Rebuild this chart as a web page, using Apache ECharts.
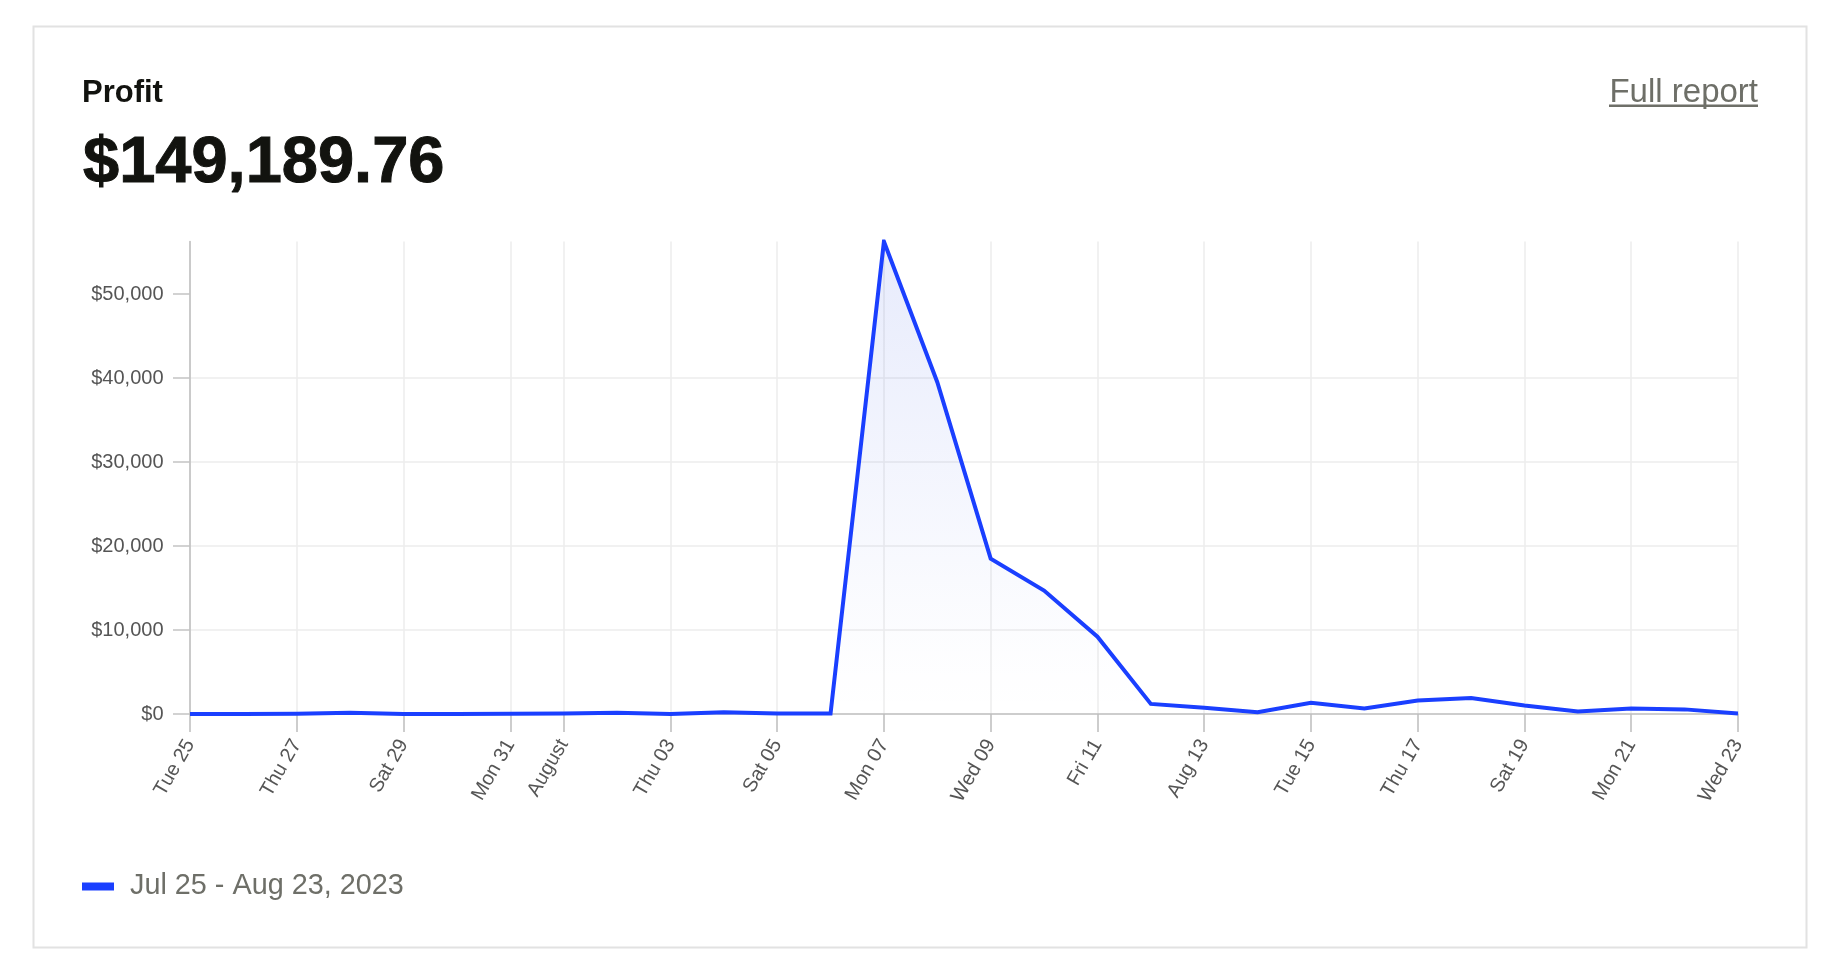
<!DOCTYPE html>
<html><head><meta charset="utf-8">
<style>html,body{margin:0;padding:0;background:#fff}#c{width:1838px;height:968px}</style>
<script src="https://cdn.jsdelivr.net/npm/echarts@6/dist/echarts.min.js"></script>
</head><body><div id="c"></div>
<script>
const dayLabels = ["Tue 25","","Thu 27","","Sat 29","","Mon 31","August","","Thu 03","","Sat 05","","Mon 07","","Wed 09","","Fri 11","","Aug 13","","Tue 15","","Thu 17","","Sat 19","","Mon 21","","Wed 23"];
const profit = [0,0,30,150,0,0,30,60,150,0,200,60,70,56250,39500,18500,14700,9200,1200,750,200,1350,650,1600,1900,1000,300,650,550,50];
const yTicks = [0,10000,20000,30000,40000,50000];
const yMax = 56250;
const seriesName = "Jul 25 - Aug 23, 2023";
const titleText = "Profit";
const totalText = "$149,189.76";
const linkText = "Full report";

const FONT = '"Liberation Sans", Arial, sans-serif';
const shown = (i) => dayLabels[i] !== "";
const chart = echarts.init(document.getElementById('c'));
chart.setOption({
  animation:false,
  backgroundColor:'#fff',
  textStyle:{fontFamily:FONT},
  grid:{left:190,right:100,top:241.5,bottom:254,containLabel:false},
  title:[
    {text:titleText,left:82,top:78,padding:0,textStyle:{fontFamily:FONT,fontSize:31,fontWeight:'bold',color:'#12130f'}},
    {text:totalText,left:83,top:132,padding:0,textStyle:{fontFamily:FONT,fontSize:65,fontWeight:'bold',color:'#12130f',textBorderColor:'#12130f',textBorderWidth:1}}
  ],
  graphic:[
    {type:'rect',silent:true,z:-10,shape:{x:33.5,y:26.5,width:1773,height:921},style:{fill:'#fff',stroke:'#e2e2e2',lineWidth:2}},
    {type:'text',silent:true,style:{text:linkText,x:1758,y:76.5,align:'right',verticalAlign:'top',font:'33px "Liberation Sans"',fill:'#6e6f68'}},
    {type:'rect',silent:true,shape:{x:1609,y:104.5,width:149,height:2.5},style:{fill:'#6e6f68'}}
  ],
  legend:{
    left:82,top:872,padding:0,icon:'rect',itemWidth:32,itemHeight:8,
    selectedMode:false,
    data:[{name:seriesName,icon:'rect',itemStyle:{color:'#1a3fff'}}],
    textStyle:{fontFamily:FONT,fontSize:28.8,color:'#6e6f68',padding:[0,0,0,11]}
  },
  xAxis:{
    type:'category',boundaryGap:false,data:dayLabels.map((d,i)=>i),
    axisLine:{lineStyle:{color:'#bdbdbd',width:1.5}},
    axisTick:{show:true,length:18,interval:(i)=>shown(i),lineStyle:{color:'#bdbdbd',width:1.5}},
    splitLine:{show:true,interval:(i)=>shown(i),lineStyle:{color:'#ececec',width:1.5}},
    axisLabel:{rotate:60,margin:27,fontSize:20,color:'#555',fontFamily:FONT,hideOverlap:false,
      interval:(i)=>shown(i),formatter:(v,i)=>dayLabels[i]}
  },
  yAxis:{
    type:'value',min:0,max:yMax,interval:10000,
    axisLine:{show:true,lineStyle:{color:'#bdbdbd',width:1.5}},
    axisTick:{show:true,length:17,customValues:yTicks,lineStyle:{color:'#c4c4c4',width:1.5}},
    splitLine:{show:true,showMaxLine:false,showMinLine:false,lineStyle:{color:'#ececec',width:1.5}},
    axisLabel:{margin:26.5,fontSize:20,color:'#555',fontFamily:FONT,customValues:yTicks,verticalAlign:'middle',
      formatter:(v)=>'$'+Number(v).toLocaleString('en-US')}
  },
  series:[{
    name:seriesName,type:'line',data:profit,showSymbol:false,smooth:false,z:5,
    lineStyle:{color:'#1a3fff',width:4,join:'miter'},itemStyle:{color:'#1a3fff'},
    areaStyle:{color:new echarts.graphic.LinearGradient(0,0,0,1,[
      {offset:0,color:'rgba(26,63,225,0.15)'},{offset:0.88,color:'rgba(26,63,225,0.01)'},{offset:1,color:'rgba(26,63,225,0)'}])}
  }]
});
</script></body></html>
